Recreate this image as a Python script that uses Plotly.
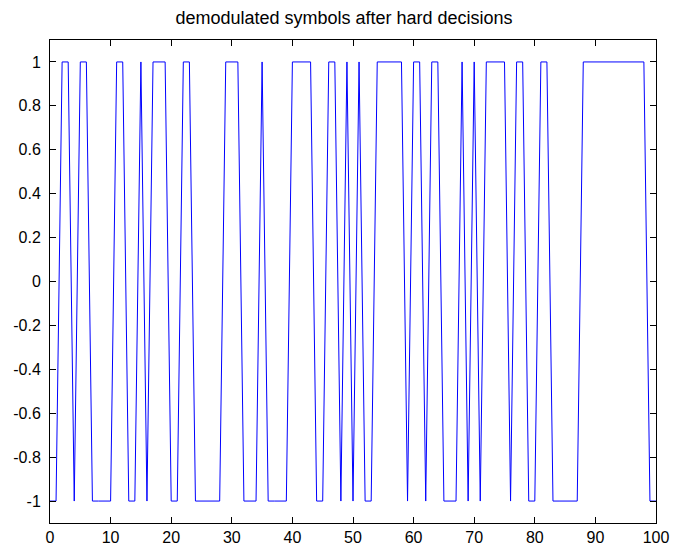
import plotly.graph_objects as go

# symbol index and hard-decision values
x_index = list(range(0, 101))
symbols = [
    -1, -1, 1, 1, -1, 1, 1, -1, -1, -1,      # 0-9
    -1, 1, 1, -1, -1, 1, -1, 1, 1, 1,        # 10-19
    -1, -1, 1, 1, -1, -1, -1, -1, -1, 1,     # 20-29
    1, 1, -1, -1, -1, 1, -1, -1, -1, -1,     # 30-39
    1, 1, 1, 1, -1, -1, 1, 1, -1, 1,         # 40-49
    -1, 1, -1, -1, 1, 1, 1, 1, 1, -1,        # 50-59
    1, 1, -1, 1, 1, -1, -1, -1, 1, -1,       # 60-69
    1, -1, 1, 1, 1, 1, -1, 1, 1, -1,         # 70-79
    -1, 1, 1, -1, -1, -1, -1, -1, 1, 1,      # 80-89
    1, 1, 1, 1, 1, 1, 1, 1, 1, -1,           # 90-99
    -1,                                      # 100
]
x_ticks = list(range(0, 101, 10))
y_ticks = [-1, -0.8, -0.6, -0.4, -0.2, 0, 0.2, 0.4, 0.6, 0.8, 1]
y_tick_text = ["-1", "-0.8", "-0.6", "-0.4", "-0.2", "0", "0.2", "0.4", "0.6", "0.8", "1"]
title_text = "demodulated symbols after hard decisions"

fig = go.Figure()
fig.add_trace(go.Scatter(
    x=x_index, y=symbols, mode="lines",
    line=dict(color="#0000ff", width=1),
    showlegend=False,
))

font = dict(family="Liberation Sans, Arial, sans-serif", size=16, color="#000000")
fig.update_layout(
    width=688, height=547,
    margin=dict(l=50, r=32, t=40, b=24, autoexpand=False),
    paper_bgcolor="white", plot_bgcolor="white",
    font=font,
    title=dict(text=title_text, x=0.5, xanchor="center", y=1 - 18 / 547, yanchor="middle",
               font=dict(family="Liberation Sans, Arial, sans-serif", size=18, color="#000000")),
    xaxis=dict(range=[0, 100], tickvals=x_ticks, ticks="inside", ticklen=6, tickcolor="#000000",
               showline=True, linecolor="#000000", linewidth=1, mirror="ticks",
               showgrid=False, zeroline=False, tickfont=font),
    yaxis=dict(range=[-1.1, 1.1], tickvals=y_ticks, ticktext=y_tick_text, ticks="inside",
               ticklen=6, tickcolor="#000000", ticklabelstandoff=5,
               showline=True, linecolor="#000000", linewidth=1, mirror="ticks",
               showgrid=False, zeroline=False, tickfont=font),
)
fig.write_html("out.html")
